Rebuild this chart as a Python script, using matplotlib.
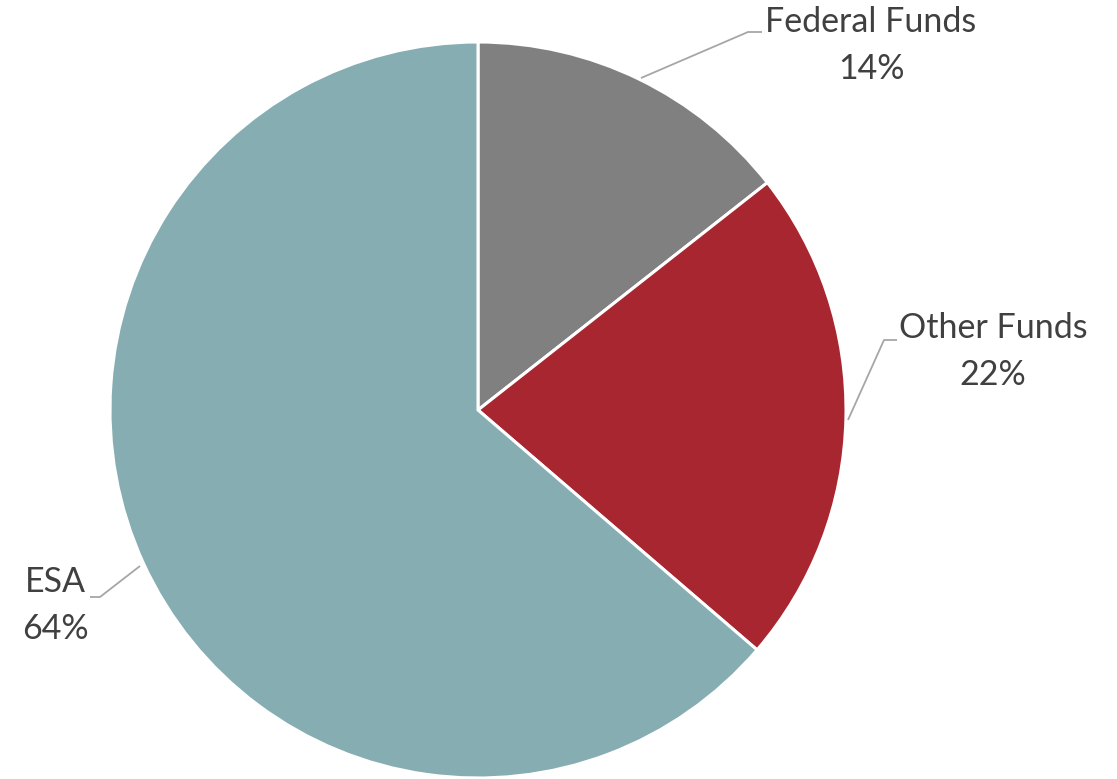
import matplotlib
matplotlib.use("Agg")
import matplotlib.pyplot as plt

categories = ["Federal Funds", "Other Funds", "ESA"]
values = [14.4, 21.9, 63.7]
colors = ["#808080", "#A82630", "#85ADB2"]

W, H = 1117, 779
fig = plt.figure(figsize=(W / 100, H / 100), dpi=100)
ax = fig.add_axes([0, 0, 1, 1])

cx, cy, r = 478, H - 410, 368
ax.pie(values, colors=colors, startangle=90, counterclock=False,
       center=(cx, cy), radius=r,
       wedgeprops=dict(edgecolor="white", linewidth=2.2))
ax.set_xlim(0, W)
ax.set_ylim(0, H)
ax.set_aspect("equal")
ax.axis("off")

font = ["Lato", "DejaVu Sans"]
tc = "#404040"
lc = "#A6A6A6"
fs = 24.5

# label placements (pixel coords, y from top)
label_pos = [(871, 22), (993, 328), (55, 582)]
leaders = [[(641, 78), (748, 32), (762, 32)],
           [(848, 420), (884, 340), (897, 340)],
           [(140, 566), (100, 597), (90, 597)]]
total = sum(values)
for cat, v, (lx, ly), ld in zip(categories, values, label_pos, leaders):
    xs = [p[0] for p in ld]
    ys = [H - p[1] for p in ld]
    ax.plot(xs, ys, color=lc, lw=1.3, solid_capstyle="butt")
    ax.text(lx, H - ly, cat, ha="center", va="center", fontsize=fs,
            color=tc, family=font)
    ax.text(lx, H - ly - 47, f"{round(v / total * 100)}%", ha="center",
            va="center", fontsize=fs, color=tc, family=font)

fig.savefig("out.png", dpi=100, facecolor="white")
